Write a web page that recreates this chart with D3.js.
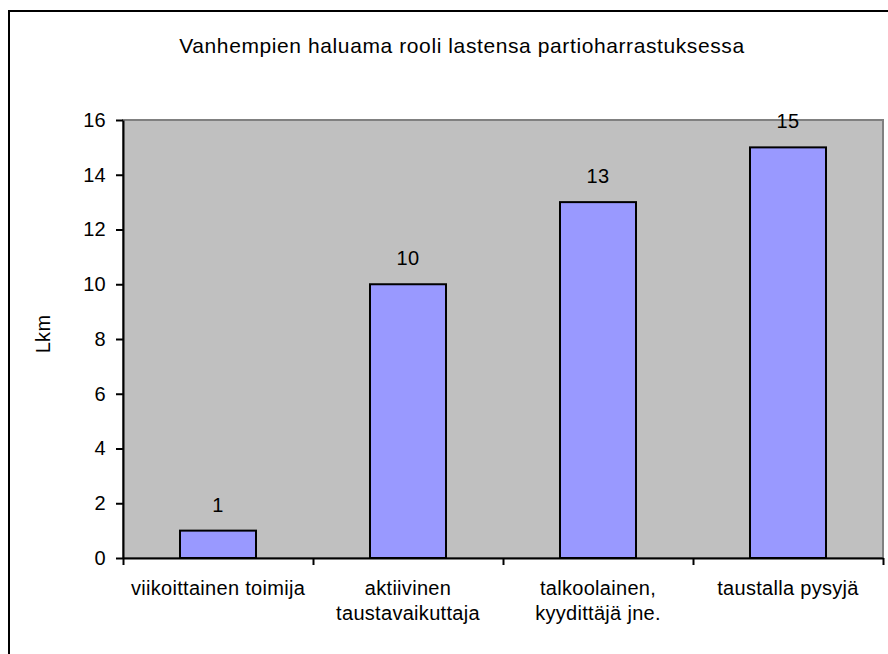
<!DOCTYPE html>
<html>
<head>
<meta charset="utf-8">
<script src="https://cdn.jsdelivr.net/npm/d3@7/dist/d3.min.js"></script>
<style>
    body { margin: 0; background: #fff; }
    svg text { font-family: Arial, "Liberation Sans", sans-serif; fill: #000; }
</style>
</head>
<body>
<div id="chart"></div>
<script>
var title = "Vanhempien haluama rooli lastensa partioharrastuksessa";
var yLabel = "Lkm";
var categories = [
    ["viikoittainen toimija"],
    ["aktiivinen", "taustavaikuttaja"],
    ["talkoolainen,", "kyydittäjä jne."],
    ["taustalla pysyjä"]
];
var counts = [1, 10, 13, 15];
var yTicks = [0, 2, 4, 6, 8, 10, 12, 14, 16];

var width = 888,
    height = 654,
    plot = { left: 123, top: 120, right: 883, bottom: 558 },
    fontSize = 20,
    spacing = 0.3;

var svg = d3.select("#chart").append("svg")
    .attr("width", width)
    .attr("height", height);

// outer chart frame (runs off the right and bottom edge)
svg.append("rect")
    .attr("x", 9)
    .attr("y", 11)
    .attr("width", 920)
    .attr("height", 700)
    .attr("fill", "#fff")
    .attr("stroke", "#000")
    .attr("stroke-width", 2);

var y = d3.scaleLinear().domain([0, 16]).range([plot.bottom, plot.top]);
var xIndex = d3.scaleLinear().domain([0, categories.length]).range([plot.left, plot.right]);
var x = d3.scaleBand()
    .domain(d3.range(categories.length))
    .range([plot.left, plot.right])
    .paddingInner(0.6)
    .paddingOuter(0.3);

// plot area background
svg.append("rect")
    .attr("x", plot.left)
    .attr("y", plot.top)
    .attr("width", plot.right - plot.left)
    .attr("height", plot.bottom - plot.top)
    .attr("fill", "#c0c0c0")
    .attr("stroke", "#808080")
    .attr("stroke-width", 2);

// bars
svg.append("g").selectAll("rect")
    .data(counts)
    .enter().append("rect")
    .attr("x", function (d, i) { return x(i); })
    .attr("y", function (d) { return y(d); })
    .attr("width", x.bandwidth())
    .attr("height", function (d) { return y(0) - y(d); })
    .attr("fill", "#9999ff")
    .attr("stroke", "#000")
    .attr("stroke-width", 2);

// value labels
svg.append("g").selectAll("text")
    .data(counts)
    .enter().append("text")
    .attr("x", function (d, i) { return x(i) + x.bandwidth() / 2; })
    .attr("y", function (d) { return y(d) - 19; })
    .attr("text-anchor", "middle")
    .attr("font-size", fontSize)
    .attr("letter-spacing", spacing)
    .text(function (d) { return d; });

// y axis
var yAxis = svg.append("g")
    .attr("transform", "translate(" + plot.left + ",0)")
    .call(d3.axisLeft(y).tickValues(yTicks).tickSize(7).tickSizeOuter(0).tickPadding(10));
yAxis.select(".domain").attr("stroke", "#000").attr("stroke-width", 2);
yAxis.selectAll(".tick line").attr("stroke", "#000").attr("stroke-width", 2);
yAxis.selectAll(".tick text")
    .attr("font-size", fontSize)
    .attr("font-family", null)
    .attr("letter-spacing", spacing);

// x axis, ticks between categories
var xAxis = svg.append("g")
    .attr("transform", "translate(0," + plot.bottom + ")")
    .call(d3.axisBottom(xIndex).tickValues(d3.range(categories.length + 1)).tickSize(7).tickSizeOuter(0).tickFormat(""));
xAxis.select(".domain").attr("stroke", "#000").attr("stroke-width", 2);
xAxis.selectAll(".tick line").attr("stroke", "#000").attr("stroke-width", 2);

// category labels
var catLabels = svg.append("g").selectAll("text")
    .data(categories)
    .enter().append("text")
    .attr("x", function (d, i) { return x(i) + x.bandwidth() / 2; })
    .attr("y", 595)
    .attr("text-anchor", "middle")
    .attr("font-size", fontSize)
    .attr("letter-spacing", spacing);
catLabels.selectAll("tspan")
    .data(function (d) { return d; })
    .enter().append("tspan")
    .attr("x", function () { return d3.select(this.parentNode).attr("x"); })
    .attr("dy", function (d, i) { return i ? 25 : 0; })
    .text(function (d) { return d; });

// y axis title
svg.append("text")
    .attr("transform", "translate(50,334) rotate(-90)")
    .attr("text-anchor", "middle")
    .attr("font-size", fontSize)
    .attr("letter-spacing", spacing)
    .text(yLabel);

// chart title
svg.append("text")
    .attr("x", 462)
    .attr("y", 53)
    .attr("text-anchor", "middle")
    .attr("font-size", 21)
    .attr("letter-spacing", 0.6)
    .text(title);
</script>
</body>
</html>
